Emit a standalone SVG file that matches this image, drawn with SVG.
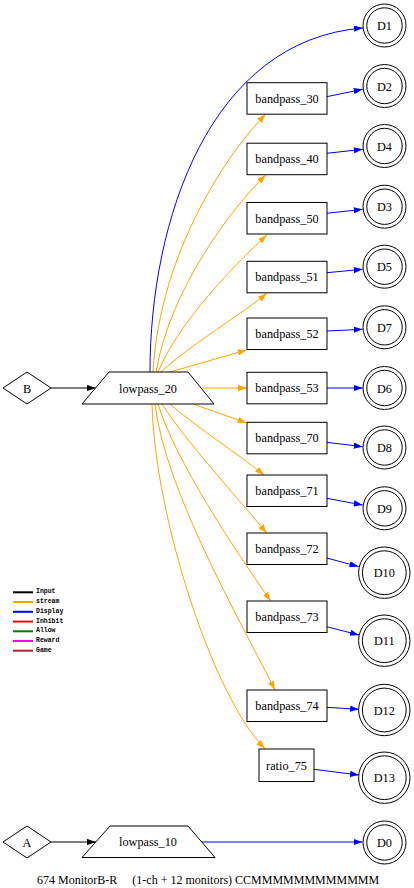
<svg xmlns="http://www.w3.org/2000/svg" width="414" height="888" viewBox="0 0 414 888">
<style>
.nd{fill:#fff;stroke:#000;stroke-width:1}
.lb{font-family:"Liberation Serif","Times New Roman",serif;font-size:12.25px;text-anchor:middle;fill:#000}
.e{fill:none;stroke-width:1}
.in{stroke:#000}
.st{stroke:#ffa500}
.ds{stroke:#0000ff}
.lg{font-family:"Liberation Mono","Courier New",monospace;font-size:6.5px;font-weight:bold;fill:#000}
</style>
<defs>
<marker id="ak" viewBox="0 0 10 7" refX="10" refY="3.5" markerWidth="9" markerHeight="6.3" orient="auto" markerUnits="userSpaceOnUse"><path d="M0,0L10,3.5L0,7z" fill="#000"/></marker>
<marker id="ao" viewBox="0 0 10 7" refX="10" refY="3.5" markerWidth="9" markerHeight="6.3" orient="auto" markerUnits="userSpaceOnUse"><path d="M0,0L10,3.5L0,7z" fill="#ffa500"/></marker>
<marker id="ab" viewBox="0 0 10 7" refX="10" refY="3.5" markerWidth="9" markerHeight="6.3" orient="auto" markerUnits="userSpaceOnUse"><path d="M0,0L10,3.5L0,7z" fill="#0000ff"/></marker>
</defs>
<rect width="414" height="888" fill="#fff"/>
<g id="edges">
<path class="e in" marker-end="url(#ak)" d="M51,388L96,388"/>
<path class="e in" marker-end="url(#ak)" d="M51,842L96,842"/>
<path class="e ds" marker-end="url(#ab)" d="M150,372C150,220 210,40 363,28"/>
<path class="e st" marker-end="url(#ao)" d="M153,372C160,250 230,150 265.7,114.3"/>
<path class="e st" marker-end="url(#ao)" d="M156,372C170,290 230,210 265.7,175"/>
<path class="e st" marker-end="url(#ao)" d="M158,372C180,320 235,265 266.7,235"/>
<path class="e st" marker-end="url(#ao)" d="M161,372C190,345 245,312 266.7,293.3"/>
<path class="e st" marker-end="url(#ao)" d="M170,372L246.7,350"/>
<path class="e st" marker-end="url(#ao)" d="M201,388L247,388"/>
<path class="e st" marker-end="url(#ao)" d="M193,404L246.7,423"/>
<path class="e st" marker-end="url(#ao)" d="M170,404C200,430 240,455 264,475"/>
<path class="e st" marker-end="url(#ao)" d="M162,404C185,440 235,495 266.7,533"/>
<path class="e st" marker-end="url(#ao)" d="M158,404C175,460 235,550 270.7,601"/>
<path class="e st" marker-end="url(#ao)" d="M155,404C165,490 240,620 275,690"/>
<path class="e st" marker-end="url(#ao)" d="M152,404C155,520 215,700 265,748.5"/>
<path class="e ds" marker-end="url(#ab)" d="M326.7,96.7L362.7,89.3"/>
<path class="e ds" marker-end="url(#ab)" d="M326.7,153.3L362.7,149.3"/>
<path class="e ds" marker-end="url(#ab)" d="M326.7,213.3L362.7,209.3"/>
<path class="e ds" marker-end="url(#ab)" d="M326.7,272.7L362.7,269.3"/>
<path class="e ds" marker-end="url(#ab)" d="M326.7,331L362.7,329.3"/>
<path class="e ds" marker-end="url(#ab)" d="M326.7,388L362.7,388"/>
<path class="e ds" marker-end="url(#ab)" d="M326.7,442.3L362.7,446.7"/>
<path class="e ds" marker-end="url(#ab)" d="M326.7,498.3L362.7,505"/>
<path class="e ds" marker-end="url(#ab)" d="M326.7,558L358.5,566.5"/>
<path class="e ds" marker-end="url(#ab)" d="M326.7,626.7L359,635"/>
<path class="e ds" marker-end="url(#ab)" d="M326.7,707.3L359,709.3"/>
<path class="e ds" marker-end="url(#ab)" d="M314,769.3L359,775"/>
<path class="e ds" marker-end="url(#ab)" d="M201,842L362.5,842"/>
</g>
<g id="B"><polygon class="nd" points="3,388 27,372 51,388 27,404"/><text class="lb" x="27" y="392.5">B</text></g>
<g id="A"><polygon class="nd" points="3,842 27,826 51,842 27,858"/><text class="lb" x="27" y="846.5">A</text></g>
<g id="lowpass_20"><polygon class="nd" points="109,372 188,372 214,404 82,404"/><text class="lb" x="148" y="392.5">lowpass_20</text></g>
<g id="lowpass_10"><polygon class="nd" points="110,826 188,826 215,857.5 82,857.5"/><text class="lb" x="148" y="846">lowpass_10</text></g>
<g id="bandpass_30"><rect class="nd" x="247" y="82.7" width="80" height="31.5"/><text class="lb" x="287" y="102.7">bandpass_30</text></g>
<g id="bandpass_40"><rect class="nd" x="247" y="143.2" width="80" height="31.5"/><text class="lb" x="287" y="163.2">bandpass_40</text></g>
<g id="bandpass_50"><rect class="nd" x="247" y="202.5" width="80" height="31.5"/><text class="lb" x="287" y="222.5">bandpass_50</text></g>
<g id="bandpass_51"><rect class="nd" x="247" y="261.3" width="80" height="31.5"/><text class="lb" x="287" y="281.3">bandpass_51</text></g>
<g id="bandpass_52"><rect class="nd" x="247" y="318" width="80" height="31.5"/><text class="lb" x="287" y="338">bandpass_52</text></g>
<g id="bandpass_53"><rect class="nd" x="247" y="372.3" width="80" height="31.5"/><text class="lb" x="287" y="392.3">bandpass_53</text></g>
<g id="bandpass_70"><rect class="nd" x="247" y="422.3" width="80" height="31.5"/><text class="lb" x="287" y="442.3">bandpass_70</text></g>
<g id="bandpass_71"><rect class="nd" x="247" y="475" width="80" height="31.5"/><text class="lb" x="287" y="495">bandpass_71</text></g>
<g id="bandpass_72"><rect class="nd" x="247" y="533" width="80" height="31.5"/><text class="lb" x="287" y="553">bandpass_72</text></g>
<g id="bandpass_73"><rect class="nd" x="247" y="601" width="80" height="31.5"/><text class="lb" x="287" y="621">bandpass_73</text></g>
<g id="bandpass_74"><rect class="nd" x="247" y="690" width="80" height="31.5"/><text class="lb" x="287" y="710">bandpass_74</text></g>
<g id="ratio_75"><rect class="nd" x="259" y="749" width="55" height="32.5"/><text class="lb" x="286.5" y="769.5">ratio_75</text></g>
<g id="D1"><circle class="nd" cx="384.5" cy="25.5" r="21.5"/><circle class="nd" cx="384.5" cy="25.5" r="17.7"/><text class="lb" x="384.5" y="30">D1</text></g>
<g id="D2"><circle class="nd" cx="384.5" cy="86" r="21.5"/><circle class="nd" cx="384.5" cy="86" r="17.7"/><text class="lb" x="384.5" y="90.5">D2</text></g>
<g id="D4"><circle class="nd" cx="384.5" cy="146" r="21.5"/><circle class="nd" cx="384.5" cy="146" r="17.7"/><text class="lb" x="384.5" y="150.5">D4</text></g>
<g id="D3"><circle class="nd" cx="384.5" cy="206.7" r="21.5"/><circle class="nd" cx="384.5" cy="206.7" r="17.7"/><text class="lb" x="384.5" y="211.2">D3</text></g>
<g id="D5"><circle class="nd" cx="384.5" cy="266.7" r="21.5"/><circle class="nd" cx="384.5" cy="266.7" r="17.7"/><text class="lb" x="384.5" y="271.2">D5</text></g>
<g id="D7"><circle class="nd" cx="384.5" cy="327.3" r="21.5"/><circle class="nd" cx="384.5" cy="327.3" r="17.7"/><text class="lb" x="384.5" y="331.8">D7</text></g>
<g id="D6"><circle class="nd" cx="384.5" cy="388" r="21.5"/><circle class="nd" cx="384.5" cy="388" r="17.7"/><text class="lb" x="384.5" y="392.5">D6</text></g>
<g id="D8"><circle class="nd" cx="384.5" cy="447.5" r="21.5"/><circle class="nd" cx="384.5" cy="447.5" r="17.7"/><text class="lb" x="384.5" y="452">D8</text></g>
<g id="D9"><circle class="nd" cx="384.5" cy="508.3" r="21.5"/><circle class="nd" cx="384.5" cy="508.3" r="17.7"/><text class="lb" x="384.5" y="512.8">D9</text></g>
<g id="D10"><circle class="nd" cx="384.3" cy="572.7" r="25.7"/><circle class="nd" cx="384.3" cy="572.7" r="21.9"/><text class="lb" x="384.3" y="577.2">D10</text></g>
<g id="D11"><circle class="nd" cx="384.3" cy="640.7" r="25.7"/><circle class="nd" cx="384.3" cy="640.7" r="21.9"/><text class="lb" x="384.3" y="645.2">D11</text></g>
<g id="D12"><circle class="nd" cx="384.3" cy="710" r="25.7"/><circle class="nd" cx="384.3" cy="710" r="21.9"/><text class="lb" x="384.3" y="714.5">D12</text></g>
<g id="D13"><circle class="nd" cx="384.3" cy="777.7" r="25.7"/><circle class="nd" cx="384.3" cy="777.7" r="21.9"/><text class="lb" x="384.3" y="782.2">D13</text></g>
<g id="D0"><circle class="nd" cx="384.5" cy="842.5" r="21.5"/><circle class="nd" cx="384.5" cy="842.5" r="17.7"/><text class="lb" x="384.5" y="847">D0</text></g>
<g id="legend">
<line x1="13" y1="592.3" x2="33" y2="592.3" stroke="#000" stroke-width="2"/><text class="lg" x="36" y="593.3">Input</text>
<line x1="13" y1="602" x2="33" y2="602" stroke="#ffa500" stroke-width="2"/><text class="lg" x="36" y="603">stream</text>
<line x1="13" y1="611.8" x2="33" y2="611.8" stroke="#0000ff" stroke-width="2"/><text class="lg" x="36" y="612.8">Display</text>
<line x1="13" y1="621.6" x2="33" y2="621.6" stroke="#ff0000" stroke-width="2"/><text class="lg" x="36" y="622.6">Inhibit</text>
<line x1="13" y1="631.3" x2="33" y2="631.3" stroke="#008000" stroke-width="2"/><text class="lg" x="36" y="632.3">Allow</text>
<line x1="13" y1="641" x2="33" y2="641" stroke="#ff00ff" stroke-width="2"/><text class="lg" x="36" y="642">Reward</text>
<line x1="13" y1="650.7" x2="33" y2="650.7" stroke="#a52a2a" stroke-width="2"/><text class="lg" x="36" y="651.7">Game</text>
</g>
<text class="lb" style="text-anchor:start;font-size:12px" x="37" y="884" xml:space="preserve">674 MonitorB-R     (1-ch + 12 monitors) CCMMMMMMMMMMMM</text>
</svg>
